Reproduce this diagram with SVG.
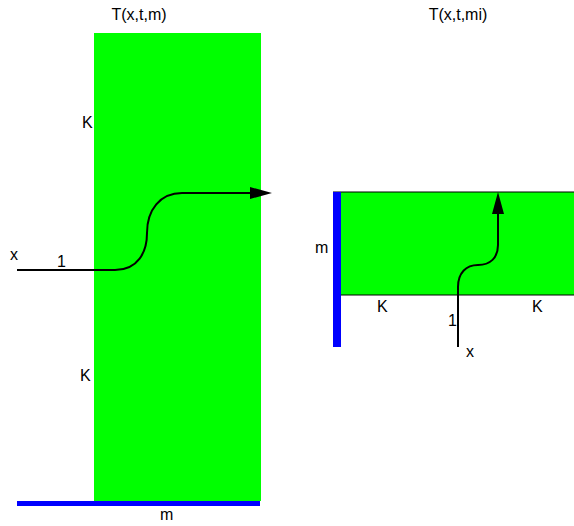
<svg xmlns="http://www.w3.org/2000/svg" width="574" height="526" viewBox="0 0 574 526">
<style>
text{font-family:"Liberation Sans",Arial,sans-serif;font-size:16px;fill:#000}
.g{fill:#00ff00}
.b{fill:#0000ff}
.c{fill:none;stroke:#000;stroke-width:2}
</style>
<defs>
<marker id="ah" markerWidth="22" markerHeight="12" viewBox="0 0 22 12" refX="0" refY="6" markerUnits="userSpaceOnUse" orient="auto">
<path d="M0,0 L22,6 L0,12 Z" fill="#000"/>
</marker>
</defs>
<rect width="574" height="526" fill="#fff"/>
<g id="left-panel">
<rect class="g" x="94" y="33" width="167" height="468"/>
<rect class="b" x="17" y="501" width="243" height="5"/>
<text x="139" y="20" text-anchor="middle">T(x,t,m)</text>
<text x="82" y="128">K</text>
<text x="80" y="381">K</text>
<text x="10" y="260">x</text>
<text x="57" y="267">1</text>
<text x="160" y="520">m</text>
</g>
<g id="right-panel">
<rect class="g" x="341" y="192" width="233" height="103"/>
<line x1="333" y1="192" x2="574" y2="192" stroke="#000" stroke-width="1.2"/>
<line x1="341" y1="295" x2="574" y2="295" stroke="#000" stroke-width="1.2"/>
<rect class="b" x="333" y="192" width="8" height="155"/>
<text x="458" y="20" text-anchor="middle">T(x,t,mi)</text>
<text x="315" y="253">m</text>
<text x="377" y="312">K</text>
<text x="532" y="312">K</text>
<text x="448" y="326">1</text>
<text x="466" y="357">x</text>
</g>
<g id="connectors">
<path class="c" d="M17,270 L115,270 C138,270 147,252 147,233 C147,210 160,193 182,193 L250,193" marker-end="url(#ah)"/>
<path class="c" stroke-width="1.6" d="M458,347 L458,287 C458,273 466,265 478,265 C490,265 498,258 498,245 L498,214" marker-end="url(#ah)"/>
</g>
</svg>
